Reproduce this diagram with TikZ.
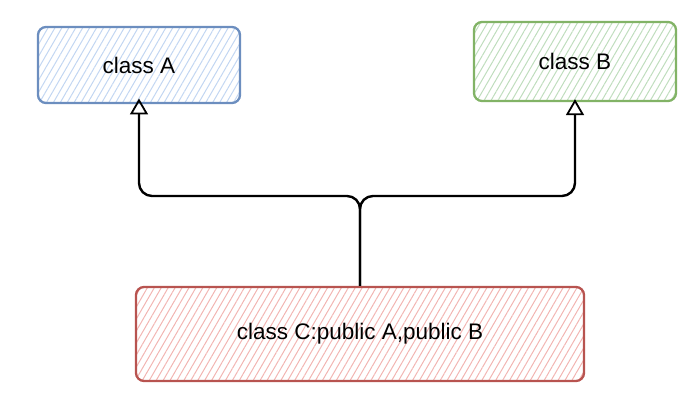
\documentclass[tikz,border=0pt]{standalone}
\usepackage{fontspec}
\setmainfont{Liberation Sans}
\usetikzlibrary{patterns.meta,arrows.meta}
\definecolor{blueline}{HTML}{6C8EBF}
\definecolor{bluefill}{HTML}{C2D6F2}
\definecolor{greenline}{HTML}{82B366}
\definecolor{greenfill}{HTML}{BFDDBD}
\definecolor{redline}{HTML}{B85450}
\definecolor{redfill}{HTML}{F2B5B2}
\tikzset{
    classbox/.style={draw, line width=2.3pt, rounded corners=8pt, inner sep=0pt,
        font=\fontsize{22.5}{26}\selectfont},
    hatch/.style={pattern={Lines[angle=60, distance=6pt, line width=1pt]}, pattern color=#1},
    inherit/.style={line width=2.4pt, rounded corners=13pt, -{Triangle[open, width=18pt, length=16pt, line width=1.8pt]}}
}
\begin{document}
\begin{tikzpicture}[x=1pt, y=-1pt]
    \useasboundingbox (0,0) rectangle (697,411);

    % 两个基类
    \node[classbox, draw=blueline, hatch=bluefill, minimum width=202pt, minimum height=76pt] (a) at (139,65) {class A};
    \node[classbox, draw=greenline, hatch=greenfill, minimum width=202pt, minimum height=79pt] (b) at (575,61.5) {class B};

    % 派生类
    \node[classbox, draw=redline, hatch=redfill, minimum width=448pt, minimum height=94pt] (c) at (360,334) {class C:public A,public B};

    % 继承箭头
    \coordinate (fork) at (360,196);
    \draw[inherit] (c.north) -- (fork) -| ([yshift=5pt]a.south);
    \draw[inherit] (c.north) -- (fork) -| ([yshift=3pt]b.south);
\end{tikzpicture}
\end{document}
